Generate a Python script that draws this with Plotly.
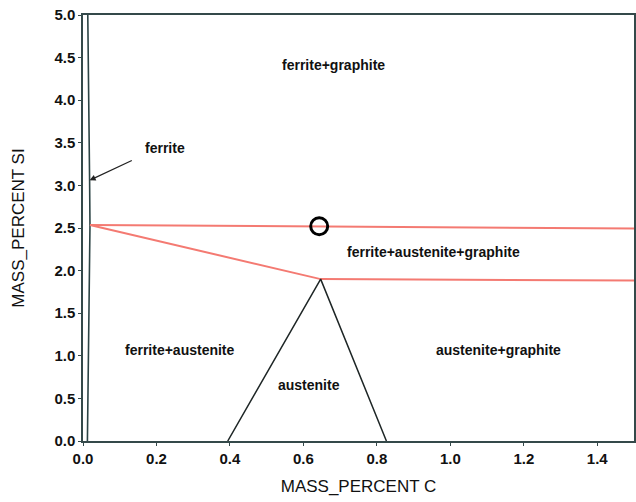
import plotly.graph_objects as go

# Phase boundary data (mass % C, mass % Si)
ferrite_c = [0.012, 0.019, 0.018, 0.013]
ferrite_si = [0.0, 2.53, 3.05, 5.0]

upper_red_c = [0.019, 1.5]
upper_red_si = [2.535, 2.495]

lower_red_c = [0.019, 0.647, 1.5]
lower_red_si = [2.535, 1.90, 1.885]

austenite_c = [0.394, 0.647, 0.826]
austenite_si = [0.0, 1.90, 0.0]

marker_c = [0.643]
marker_si = [2.52]

labels = ["ferrite+graphite", "ferrite", "ferrite+austenite+graphite",
          "ferrite+austenite", "austenite+graphite", "austenite"]
label_c = [0.683, 0.222, 0.955, 0.263, 1.131, 0.616]
label_si = [4.41, 3.44, 2.22, 1.07, 1.07, 0.66]

x_ticks = [0.0, 0.2, 0.4, 0.6, 0.8, 1.0, 1.2, 1.4]
y_ticks = [0.0, 0.5, 1.0, 1.5, 2.0, 2.5, 3.0, 3.5, 4.0, 4.5, 5.0]

FONT = "Liberation Sans"
frame = "#34494a"

fig = go.Figure()
fig.add_trace(go.Scatter(x=ferrite_c, y=ferrite_si, mode="lines",
                         line=dict(color="#2c4445", width=1.6), showlegend=False))
fig.add_trace(go.Scatter(x=upper_red_c, y=upper_red_si, mode="lines",
                         line=dict(color="#f47a72", width=2), showlegend=False))
fig.add_trace(go.Scatter(x=lower_red_c, y=lower_red_si, mode="lines",
                         line=dict(color="#f47a72", width=2), showlegend=False))
fig.add_trace(go.Scatter(x=austenite_c, y=austenite_si, mode="lines",
                         line=dict(color="#1e2626", width=1.5), showlegend=False))
fig.add_trace(go.Scatter(x=marker_c, y=marker_si, mode="markers",
                         marker=dict(symbol="circle-open", size=17, color="black",
                                     line=dict(width=3, color="black")),
                         showlegend=False))

for t, cx, cy in zip(labels, label_c, label_si):
    fig.add_annotation(x=cx, y=cy, text=t, showarrow=False,
                       font=dict(family=FONT, size=14, color="#111111", weight="bold"))

# arrow for "ferrite"
fig.add_annotation(x=ferrite_c[2], y=3.06, ax=0.137, ay=3.30,
                   xref="x", yref="y", axref="x", ayref="y", text="",
                   showarrow=True, arrowhead=2, arrowsize=1, arrowwidth=1.2,
                   arrowcolor="#222222")

fig.update_layout(
    width=636, height=502,
    margin=dict(l=83, r=2, t=15, b=61),
    paper_bgcolor="white", plot_bgcolor="white",
    xaxis=dict(range=[0, 1.5], tickvals=x_ticks, ticktext=[f"{v:.1f}" for v in x_ticks],
               automargin=False,
               showgrid=False, zeroline=False, showline=True, linecolor=frame,
               linewidth=1.5, mirror=True, ticks="outside", ticklen=3,
               tickcolor=frame, tickfont=dict(family=FONT, size=15, color="#111111", weight="bold"),
               title=dict(text="MASS_PERCENT C", font=dict(family=FONT, size=17, color="#111111"),
                          standoff=14)),
    yaxis=dict(range=[0, 5.0], tickvals=y_ticks, ticktext=[f"{v:.1f}" for v in y_ticks],
               automargin=False,
               showgrid=False, zeroline=False, showline=True, linecolor=frame,
               linewidth=1.5, mirror=True, ticks="outside", ticklen=3,
               tickcolor=frame, tickfont=dict(family=FONT, size=15, color="#111111", weight="bold"),
               title=dict(text="MASS_PERCENT SI", font=dict(family=FONT, size=17, color="#111111"),
                          standoff=25)),
)

fig.write_html("out.html", config={"displayModeBar": False},
               post_script="document.body.style.margin='0';document.body.style.overflow='hidden';")
